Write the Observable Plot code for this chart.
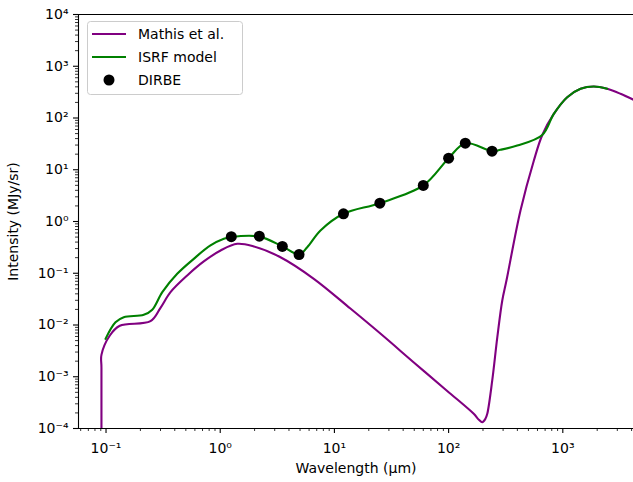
<!DOCTYPE html>
<html>
<head>
<meta charset="utf-8">
<script src="https://cdn.jsdelivr.net/npm/d3@7"></script>
<script src="https://cdn.jsdelivr.net/npm/@observablehq/plot@0.6"></script>
<style>
  html, body { margin: 0; padding: 0; background: white; }
  #wrap { position: relative; width: 633px; height: 482px; font-family: "DejaVu Sans", sans-serif; }
  #legend { position: absolute; left: 87px; top: 21px; }
</style>
</head>
<body>
<div id="wrap"></div>
<script>
// ---- Data ----
// Mathis et al. ISRF (wavelength in µm, intensity in MJy/sr)
const mathisWl = [0.0912, 0.0912, 0.0912, 0.108, 0.132, 0.245, 0.300, 0.367, 0.514, 0.718, 1.007, 1.41, 1.97, 3.37, 6.60, 13.8, 25.4, 49.6, 97.2, 166, 184, 197, 210, 218, 241, 267, 295, 321, 426, 558, 661, 834, 1093, 1430, 1868, 2447, 3199, 4159];
const mathisI  = [1e-5, 0.0015, 0.00265, 0.00627, 0.00966, 0.01186, 0.0215, 0.0431, 0.0906, 0.169, 0.275, 0.371, 0.329, 0.204, 0.0782, 0.0208, 0.00676, 0.00189, 0.000531, 0.000192, 0.000148, 0.000132, 0.000154, 0.000192, 0.000847, 0.00581, 0.0297, 0.0724, 1.63, 15.1, 47, 120, 252, 366, 406, 366, 294, 225];

// ISRF model
const isrfWl = [0.0990, 0.121, 0.143, 0.214, 0.254, 0.311, 0.420, 0.587, 0.822, 1.076, 1.25, 2.2, 3.5, 4.9, 5.78, 7.55, 12, 25, 60, 100, 140, 240, 284, 399, 661, 834, 1093, 1430, 1868, 2447];
const isrfI  = [0.0054, 0.0113, 0.01415, 0.0157, 0.0197, 0.0431, 0.0975, 0.190, 0.344, 0.463, 0.50, 0.51, 0.33, 0.23, 0.318, 0.67, 1.41, 2.26, 4.97, 16.7, 32.6, 22.8, 24.3, 29.4, 47, 120, 252, 366, 406, 366];

// DIRBE points
const dirbeWl = [1.25, 2.2, 3.5, 4.9, 12, 25, 60, 100, 140, 240];
const dirbeI  = [0.51, 0.52, 0.33, 0.23, 1.41, 2.26, 4.97, 16.7, 32.6, 22.8];

// Ticks
const xMajor = [0.1, 1, 10, 100, 1000];
const yMajor = [1e-4, 1e-3, 1e-2, 1e-1, 1, 10, 100, 1000, 10000];

// Legend
const legendLabels = ["Mathis et al.", "ISRF model", "DIRBE"];
const colors = {mathis: "#800080", isrf: "#008000", dirbe: "black"};

// ---- Build tables ----
const mathis = mathisWl.map((w, i) => ({w, v: mathisI[i]}));
const isrf = isrfWl.map((w, i) => ({w, v: isrfI[i]}));
const dirbe = dirbeWl.map((w, i) => ({w, v: dirbeI[i]}));

const xDomain = [10 ** -1.241, 10 ** 3.619];
const yDomain = [1e-4, 1e4];

function minors(lo, hi, dom) {
  const out = [];
  for (let e = lo; e <= hi; e++) for (let k = 2; k <= 9; k++) {
    const v = k * 10 ** e;
    if (v >= dom[0] && v <= dom[1]) out.push(v);
  }
  return out;
}
const xMinor = minors(-2, 3, xDomain);
const yMinor = minors(-4, 3, yDomain);

const supMap = {"-": "\u207B", "0": "\u2070", "1": "\u00B9", "2": "\u00B2", "3": "\u00B3", "4": "\u2074", "5": "\u2075", "6": "\u2076", "7": "\u2077", "8": "\u2078", "9": "\u2079"};
const sup = d => "10" + String(Math.round(Math.log10(d))).split("").map(c => supMap[c]).join("");

const chart = Plot.plot({
  width: 633,
  height: 482,
  marginLeft: 78,
  marginRight: 0,
  marginTop: 14,
  marginBottom: 54,
  x: {type: "log", domain: xDomain},
  y: {type: "log", domain: yDomain},
  style: {fontFamily: "DejaVu Sans", fontSize: "14px", background: "white", color: "black", overflow: "visible"},
  marks: [
    Plot.axisX({ticks: xMinor, tickSize: 3, strokeWidth: 0.8, tickFormat: () => "", label: null}),
    Plot.axisX({ticks: xMajor, tickSize: 5, strokeWidth: 1.1, tickPadding: 10, tickFormat: sup,
      label: "Wavelength (μm)", labelAnchor: "center", labelArrow: "none", labelOffset: 44, fontSize: 14}),
    Plot.axisY({ticks: yMinor, tickSize: 3, strokeWidth: 0.8, tickFormat: () => "", label: null}),
    Plot.axisY({ticks: yMajor, tickSize: 5, strokeWidth: 1.1, tickPadding: 5, tickFormat: sup,
      label: "Intensity (MJy/sr)", labelAnchor: "center", labelArrow: "none", labelOffset: 70, fontSize: 14}),
    Plot.line(mathis, {x: "w", y: "v", stroke: colors.mathis, strokeWidth: 2.1, curve: "catmull-rom", clip: true}),
    Plot.line(isrf, {x: "w", y: "v", stroke: colors.isrf, strokeWidth: 2.1, curve: "catmull-rom", clip: true}),
    Plot.dot(dirbe, {x: "w", y: "v", r: 5.5, fill: colors.dirbe, stroke: null}),
    Plot.frame({anchor: "left", stroke: "black", strokeWidth: 1.1}),
    Plot.frame({anchor: "top", stroke: "black", strokeWidth: 1.1}),
    Plot.frame({anchor: "bottom", stroke: "black", strokeWidth: 1.1})
  ]
});

const wrap = document.getElementById("wrap");
wrap.appendChild(chart);

// Legend overlay
const ns = "http://www.w3.org/2000/svg";
const lg = document.createElementNS(ns, "svg");
lg.setAttribute("id", "legend");
lg.setAttribute("width", 157);
lg.setAttribute("height", 75);
const box = document.createElementNS(ns, "rect");
Object.entries({x: 0.5, y: 0.5, width: 155, height: 73, rx: 3, fill: "white", "fill-opacity": 0.8, stroke: "#cccccc", "stroke-width": 1}).forEach(([k, v]) => box.setAttribute(k, v));
lg.appendChild(box);
const kinds = ["line", "line", "dot"];
const swatchColors = [colors.mathis, colors.isrf, colors.dirbe];
legendLabels.forEach((lab, i) => {
  const cy = 13 + i * 23;
  if (kinds[i] === "line") {
    const l = document.createElementNS(ns, "line");
    Object.entries({x1: 5, x2: 39, y1: cy, y2: cy, stroke: swatchColors[i], "stroke-width": 2.1}).forEach(([k, v]) => l.setAttribute(k, v));
    lg.appendChild(l);
  } else {
    const c = document.createElementNS(ns, "circle");
    Object.entries({cx: 22, cy: cy, r: 5.5, fill: swatchColors[i]}).forEach(([k, v]) => c.setAttribute(k, v));
    lg.appendChild(c);
  }
  const t = document.createElementNS(ns, "text");
  Object.entries({x: 51, y: cy, dy: "0.35em", "font-family": "DejaVu Sans", "font-size": 14, fill: "black"}).forEach(([k, v]) => t.setAttribute(k, v));
  t.textContent = lab;
  lg.appendChild(t);
});
wrap.appendChild(lg);
</script>
</body>
</html>
